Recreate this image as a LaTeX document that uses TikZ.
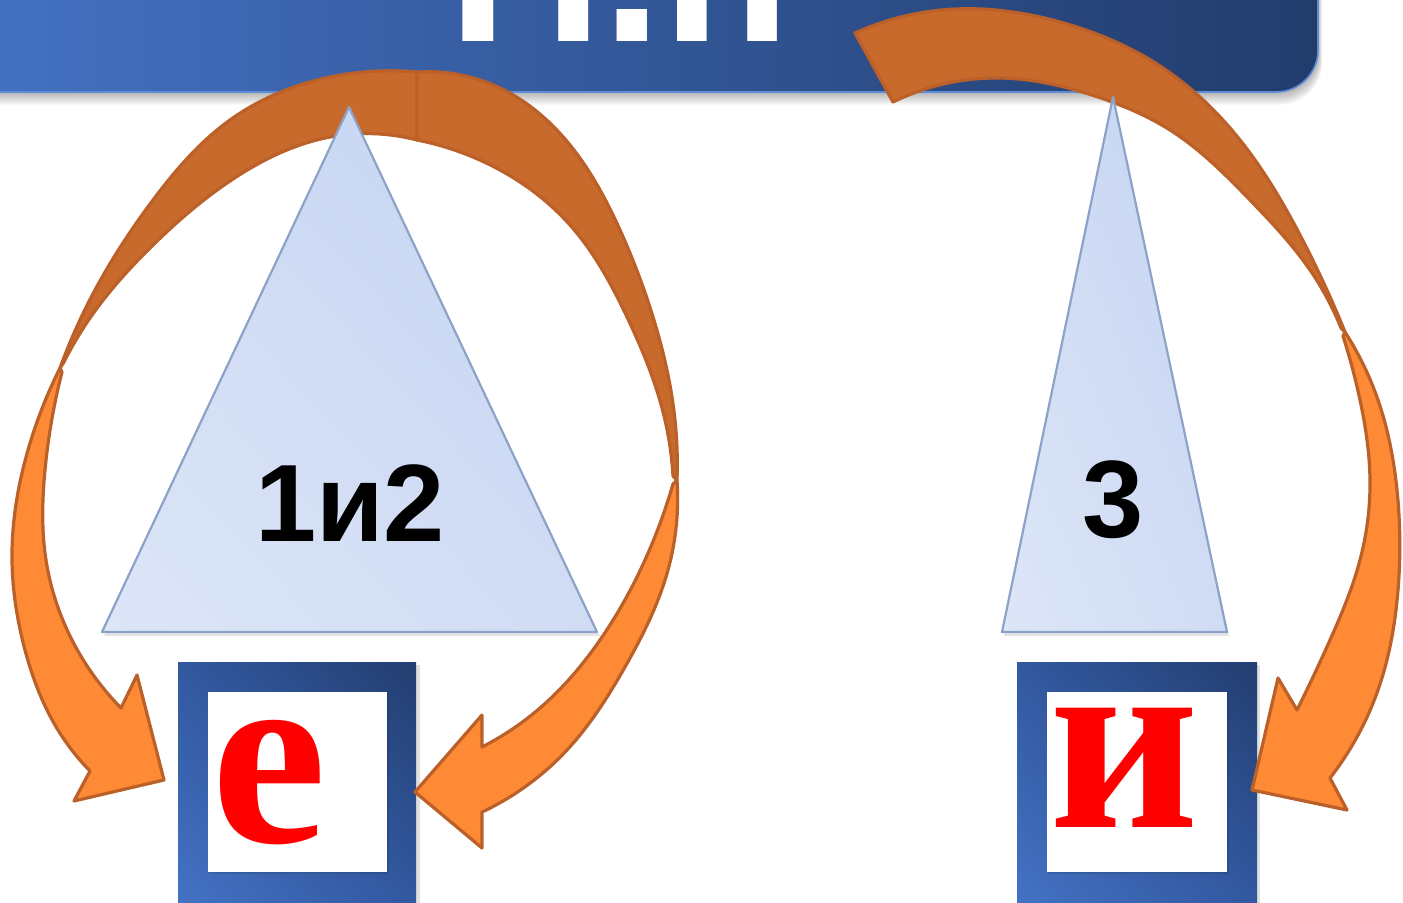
\documentclass[tikz,border=0pt]{standalone}
\usetikzlibrary{shadings,hobby}
\usepackage{fontspec}
\newfontfamily\hsans{Liberation Sans}
\newfontfamily\hserif{Liberation Serif}
\definecolor{banL}{RGB}{68,114,196}
\definecolor{banR}{RGB}{34,60,108}
\definecolor{banEdge}{RGB}{95,140,215}
\definecolor{triL}{RGB}{221,230,247}
\definecolor{triD}{RGB}{196,211,242}
\definecolor{triB}{RGB}{140,162,200}
\definecolor{orD}{RGB}{200,106,43}
\definecolor{orL}{RGB}{254,138,54}
\definecolor{orB}{RGB}{186,96,40}
\definecolor{boxL}{RGB}{68,114,196}
\definecolor{boxD}{RGB}{35,62,112}
\definecolor{boxM}{RGB}{50,88,160}
\definecolor{triM}{RGB}{208,220,244}
\tikzset{
  arrD/.style={fill=orD, draw=orB, line width=1.6pt, line join=round, use Hobby shortcut},
  arrL/.style={fill=orL, draw=orB, line width=1.6pt, line join=round, use Hobby shortcut},
  tri/.style={shading=bilinear interpolation, lower left=triL, upper right=triD, upper left=triM, lower right=triM},
  frame/.style={shading=bilinear interpolation, lower left=boxL, upper right=boxD, upper left=boxM, lower right=boxM},
  numtxt/.style={inner sep=0pt, anchor=base, font=\hsans\bfseries\fontsize{55pt}{60pt}\selectfont},
  redtxt/.style={inner sep=0pt, anchor=base, text=red, font=\hserif\bfseries\fontsize{130pt}{140pt}\selectfont}
}
\begin{document}
\begin{tikzpicture}[x=0.5pt,y=-0.5pt]
\useasboundingbox (0,0) rectangle (1403,902);
\clip (0,0) rectangle (1403,902);
\fill[white] (0,0) rectangle (1403,902);
% banner shadow
\foreach \k in {1,...,7}{
  \fill[black, opacity=0.045, rounded corners=21pt] (-40,-80) rectangle (1318+0.6*\k,92+1.8*\k);
}
% banner
\shade[left color=banL, right color=banR, rounded corners=21pt] (-40,-80) rectangle (1318,92);
\draw[banEdge, line width=0.8pt, rounded corners=21pt] (-40,-80) rectangle (1318,92);
\node[anchor=base west, inner sep=0pt, text=white, font=\hsans\bfseries\fontsize{107.5pt}{110pt}\selectfont] (title) at (448,41) {П.п};

% boxes
\fill[black, opacity=0.12] (181,665) rectangle (420,906);
\shade[frame] (178,662) rectangle (416,902);
\fill[black, opacity=0.10] (209,693) rectangle (389,874);
\fill[white] (208,692) rectangle (387,872);
\fill[black, opacity=0.12] (1021,665) rectangle (1260,906);
\shade[frame] (1017,662) rectangle (1257,902);
\fill[black, opacity=0.10] (1048,693) rectangle (1229,874);
\fill[white] (1047,692) rectangle (1227,872);
\node[redtxt] (e) at (269,842) {е};
\node[redtxt] (i) at (1124,827) {и};

% left arrow 1 (around left side)
\filldraw[arrL] (60,368) .. (28,450) .. (12,560) .. (25,650) .. (55,725) .. (90,771)
  -- (74,801) -- (164,780) -- (137,675) -- (121,708)
  .. (72,640) .. (46,560) .. (45,470) .. (62,372) -- cycle;
\filldraw[arrD] (417,72) .. (330,77) .. (230,120) .. (153,200) .. (95,290) .. (60,368)
  -- (64,362) .. (90,318) .. (150,248) .. (230,181) .. (330,137) .. (417,140) -- cycle;

% left arrow 2 (around right side)
\filldraw[arrL] (677,480) .. (668,570) .. (625,667) .. (567,750) .. (482,812)
  -- (482,848) -- (415,792) -- (482,715) -- (482,747)
  .. (540,708) .. (600,640) .. (645,560) .. (673,484) -- cycle;
\filldraw[arrD] (417,72) .. (500,88) .. (570,145) .. (620,230) .. (653,317) .. (675,420) .. (677,480)
  -- (673,476) .. (665,420) .. (627,317) .. (570,225) .. (500,170) .. (417,140) -- cycle;

% right arrow
\filldraw[arrL] (1345,332) .. (1378,400) .. (1397,490) .. (1398,590) .. (1378,690) .. (1330,778)
  -- (1347,810) -- (1252,790) -- (1278,678) -- (1297,710)
  .. (1330,640) .. (1360,560) .. (1370,480) .. (1360,400) .. (1343,336) -- cycle;
\filldraw[arrD] (893,102) -- (855,33)
  .. (956,9) .. (1060,22) .. (1160,66) .. (1240,140) .. (1300,235) .. (1345,332)
  -- (1341,328) .. (1310,270) .. (1250,200) .. (1170,130) .. (1098,97) .. (1000,78) .. (893,102) -- cycle;

% triangles
\fill[black, opacity=0.10] (349,111) -- (600,636) -- (104,636) -- cycle;
\shade[tri] (349,107) -- (597,632) -- (102,632) -- cycle;
\fill[black, opacity=0.10] (1113,101) -- (1229,636) -- (1004,636) -- cycle;
\shade[tri] (1113,97) -- (1227,632) -- (1002,632) -- cycle;
\draw[triB, line width=1.1pt, line join=round] (349,107) -- (597,632) -- (102,632) -- cycle;
\draw[triB, line width=1.1pt, line join=round] (1113,97) -- (1227,632) -- (1002,632) -- cycle;
\node[numtxt] (n12) at (350,541) {1и2};
\node[numtxt] (n3) at (1113,537) {3};
\end{tikzpicture}
\end{document}
